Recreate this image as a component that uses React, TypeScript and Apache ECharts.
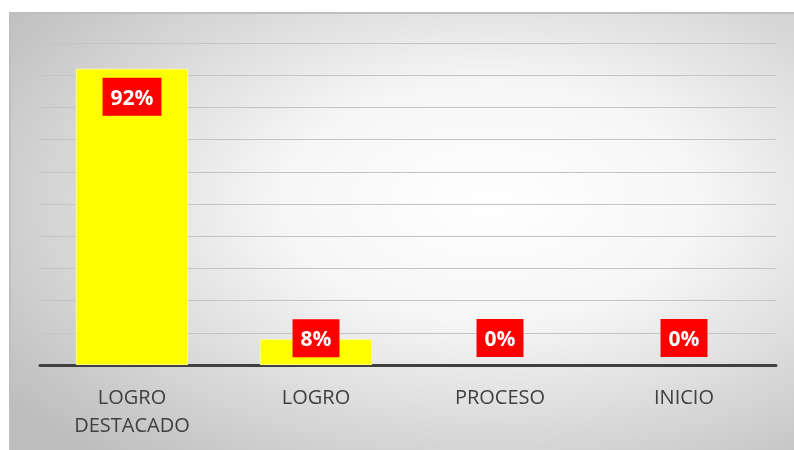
import React, { useEffect, useRef } from "react";
import * as echarts from "echarts";

const categories = ["LOGRO\nDESTACADO", "LOGRO", "PROCESO", "INICIO"];
const values = [92, 8, 0, 0];
const yTicks = { min: 0, max: 100, interval: 10 };

export default function App() {
  const ref = useRef<HTMLDivElement>(null);
  useEffect(() => {
    if (!ref.current) return;
    const chart = echarts.init(ref.current, undefined, { renderer: "svg" });
    const labelFor = (v: number) => {
      if (v > 50) return { position: "insideTop", distance: 9 };
      if (v > 0) return { position: "top", distance: -18 };
      return { position: "top", distance: 8 };
    };
    chart.setOption({
      animation: false,
      graphic: [
        {
          type: "rect",
          z: -10,
          silent: true,
          shape: { x: 10, y: 13, width: 800, height: 450 },
          style: {
            fill: new echarts.graphic.RadialGradient(0.6, 0.42, 0.75, [
              { offset: 0, color: "#ffffff" },
              { offset: 0.35, color: "#f6f6f6" },
              { offset: 1, color: "#bdbdbd" },
            ]),
            stroke: "#bfbfbf",
            lineWidth: 2,
          },
        },
      ],
      grid: { left: 40, right: 18, top: 43, bottom: 85, containLabel: false },
      xAxis: {
        type: "category",
        data: categories,
        axisLine: { lineStyle: { color: "#404040", width: 3 } },
        axisTick: { show: false },
        axisLabel: {
          color: "#404040",
          fontFamily: "Open Sans",
          fontSize: 20,
          lineHeight: 28,
          margin: 17,
        },
      },
      yAxis: {
        type: "value",
        min: yTicks.min,
        max: yTicks.max,
        interval: yTicks.interval,
        axisLabel: { show: false },
        axisLine: { show: false },
        axisTick: { show: false },
        splitLine: { lineStyle: { color: "#c4c4c4", width: 1 } },
      },
      series: [
        {
          type: "bar",
          barWidth: "61%",
          data: values.map((v) => ({
            value: v,
            itemStyle: v > 0 ? {} : { borderWidth: 0 },
            label: {
              show: true,
              ...labelFor(v),
            },
          })),
          itemStyle: { color: "#ffff00", borderColor: "#ffff80", borderWidth: 1 },
          label: {
            show: true,
            formatter: "{c}%",
            color: "#ffffff",
            fontWeight: "bold",
            fontFamily: "Open Sans",
            fontSize: 21,
            lineHeight: 22,
            backgroundColor: "#ff0000",
            padding: [8, 8, 8, 8],
          },
        },
      ],
    });
    return () => chart.dispose();
  }, []);
  return (
    <div
      ref={ref}
      style={{ position: "fixed", left: 0, top: 0, width: 794, height: 450 }}
    />
  );
}
